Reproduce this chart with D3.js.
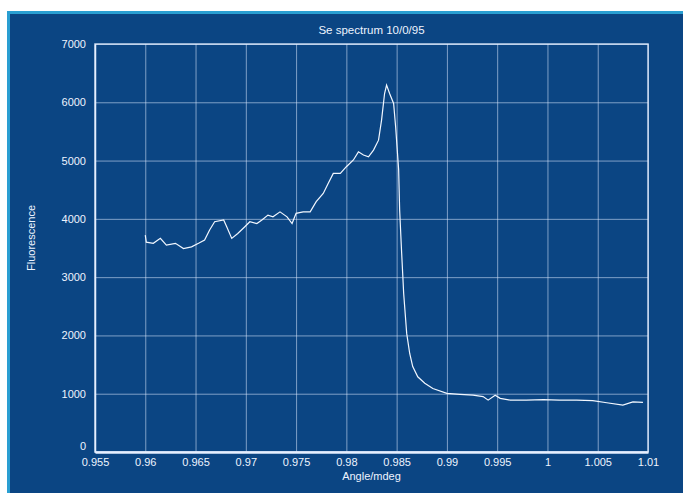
<!DOCTYPE html>
<html>
<head>
<meta charset="utf-8">
<script src="https://cdn.jsdelivr.net/npm/d3@7"></script>
<style>
  html, body { margin: 0; padding: 0; background: #fff; }
  svg { display: block; }
  text { font-family: "Liberation Sans", Arial, sans-serif; fill: #eef4ff; }
</style>
</head>
<body>
<svg id="chart"></svg>
<script>
// spectrum
let angle = [0.9600, 0.9601, 0.9608, 0.9615, 0.9621, 0.9630, 0.9638, 0.9646, 0.9653, 0.9659,
  0.9664, 0.9669, 0.9678, 0.9681, 0.9686, 0.9692, 0.9699, 0.9704, 0.9711, 0.9716,
  0.9722, 0.9727, 0.9734, 0.9741, 0.9746, 0.9750, 0.9757, 0.9764, 0.9770, 0.9777,
  0.9782, 0.9787, 0.9794, 0.9800, 0.9807, 0.9812, 0.9817, 0.9822, 0.9827, 0.9832,
  0.9835, 0.9838, 0.9840, 0.9843, 0.9847, 0.9849, 0.9852, 0.9853, 0.9855, 0.9857,
  0.9860, 0.9863, 0.9866, 0.9871, 0.9878, 0.9886, 0.9900, 0.9913, 0.9926, 0.9936,
  0.9941, 0.9948, 0.9953, 0.9963, 0.9979, 0.9996, 1.0012, 1.0029, 1.0045, 1.0059,
  1.0075, 1.0085, 1.0095];
let fluorescence = [3720, 3600, 3580, 3665, 3550, 3580, 3490, 3520, 3580, 3635,
  3810, 3950, 3980, 3865, 3665, 3750, 3865, 3950, 3920, 3980,
  4065, 4035, 4120, 4035, 3920, 4095, 4120, 4120, 4295, 4435,
  4610, 4780, 4780, 4895, 5010, 5150, 5095, 5065, 5180, 5350,
  5695, 6150, 6295, 6150, 5980, 5580, 4840, 4150, 3410, 2720,
  2035, 1690, 1465, 1290, 1180, 1090, 1005, 990, 975, 950,
  890, 975, 920, 890, 890, 900, 890, 890, 880, 845,
  805, 860, 850];
let xTicks = [0.955, 0.96, 0.965, 0.97, 0.975, 0.98, 0.985, 0.99, 0.995, 1, 1.005, 1.01];
let xTickLabels = ["0.955", "0.96", "0.965", "0.97", "0.975", "0.98", "0.985", "0.99", "0.995", "1", "1.005", "1.01"];
let yTicks = [0, 1000, 2000, 3000, 4000, 5000, 6000, 7000];
let title = "Se spectrum 10/0/95";

let W = 683, H = 493;
let margin = { top: 44, right: 35, bottom: 41, left: 95 },
  width = W - margin.left - margin.right,
  height = H - margin.top - margin.bottom;

let root = d3.select("#chart").attr("width", W).attr("height", H);

// blue panel with cyan edge
root.append("rect")
  .attr("x", 8.5).attr("y", 12.5)
  .attr("width", 700).attr("height", 500)
  .attr("fill", "#0b4583")
  .attr("stroke", "#2a9fd2")
  .attr("stroke-width", 3);

let svg = root.append("g")
  .attr("transform", "translate(" + margin.left + "," + margin.top + ")");

let x = d3.scaleLinear().domain([0.955, 1.01]).range([0, width]);
let y = d3.scaleLinear().domain([0, 7000]).range([height, 0]);

// grid
svg.append("g")
  .attr("class", "grid")
  .attr("transform", "translate(0," + height + ")")
  .call(d3.axisBottom(x).tickValues(xTicks).tickSize(-height).tickFormat(""))
  .call(g => g.select(".domain").remove())
  .call(g => g.selectAll("line").attr("stroke", "#dfe9ff").attr("stroke-opacity", 0.55));

svg.append("g")
  .attr("class", "grid")
  .call(d3.axisLeft(y).tickValues(yTicks).tickSize(-width).tickFormat(""))
  .call(g => g.select(".domain").remove())
  .call(g => g.selectAll("line").attr("stroke", "#dfe9ff").attr("stroke-opacity", 0.55));

// frame box
svg.append("rect")
  .attr("width", width).attr("height", height)
  .attr("fill", "none")
  .attr("stroke", "#e6efff")
  .attr("stroke-opacity", 0.85)
  .attr("stroke-width", 1.5);

// axes labels
let xAxis = svg.append("g")
  .attr("transform", "translate(0," + height + ")")
  .call(d3.axisBottom(x).tickValues(xTicks).tickSize(0).tickPadding(6)
    .tickFormat((d, i) => xTickLabels[i]));
xAxis.select(".domain").attr("stroke", "#e6efff").attr("stroke-width", 2.5);
xAxis.selectAll("text").attr("font-size", 11).attr("fill", "#eef4ff");

let yAxis = svg.append("g")
  .call(d3.axisLeft(y).tickValues(yTicks).tickSize(0).tickPadding(9).tickFormat(d3.format("d")));
yAxis.select(".domain").attr("stroke", "#e6efff").attr("stroke-width", 1.5);
yAxis.selectAll("text").attr("font-size", 11).attr("fill", "#eef4ff");
yAxis.selectAll(".tick").filter(d => d === 0).select("text").attr("dy", "-0.2em");

// spectrum
let data = angle.map((a, i) => ({ a: a, f: fluorescence[i] }));
svg.append("path")
  .datum(data)
  .attr("fill", "none")
  .attr("stroke", "#f2f7ff")
  .attr("stroke-width", 1.2)
  .attr("d", d3.line().x(d => x(d.a)).y(d => y(d.f)));

// title and axis titles
svg.append("text")
  .attr("x", width / 2).attr("y", -10)
  .attr("text-anchor", "middle")
  .attr("font-size", 11.5)
  .text(title);

svg.append("text")
  .attr("x", width / 2).attr("y", height + 28)
  .attr("text-anchor", "middle")
  .attr("font-size", 11)
  .text("Angle/mdeg");

svg.append("text")
  .attr("transform", "translate(" + (-60) + "," + (height / 2 - 10) + ") rotate(-90)")
  .attr("text-anchor", "middle")
  .attr("font-size", 11)
  .text("Fluorescence");
</script>
</body>
</html>
